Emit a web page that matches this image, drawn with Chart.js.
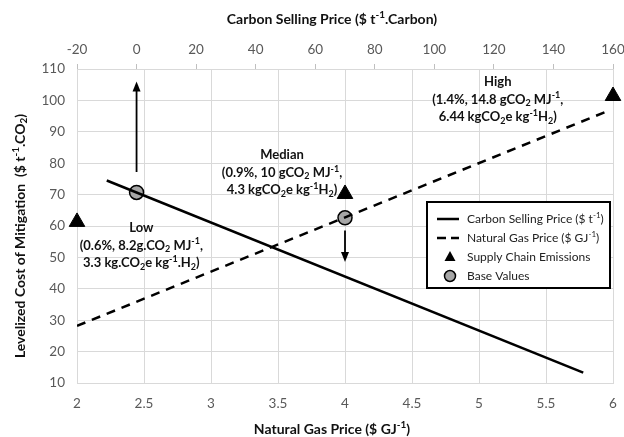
<!DOCTYPE html>
<html>
<head>
<meta charset="utf-8">
<script src="https://cdn.jsdelivr.net/npm/chart.js@4.4.0/dist/chart.umd.min.js"></script>
<style>
  html, body { margin: 0; padding: 0; background: #fff; }
  #wrap { width: 624px; height: 437px; }
</style>
</head>
<body>
<div id="wrap"><canvas id="myChart"></canvas></div>
<script>
var FONT = 'Lato, "Open Sans", sans-serif';

// bottom axis: natural gas price ($/GJ), top axis: carbon selling price ($/t)
var gasRange = [2, 6];
var gasStep = 0.5;
var carbonRange = [-20, 160];
var carbonStep = 20;
var costRange = [10, 110];
var costStep = 10;

// the two sensitivity lines
var carbonLineX = [-10, 150];
var carbonLineY = [74.5, 13.3];
var gasLineX = [2, 5.96];
var gasLineY = [28.2, 96.6];

// supply chain emission cases (on gas axis)
var emissionCases = ['Low', 'Median', 'High'];
var emissionX = [2, 4, 6];
var emissionY = [61.3, 70.2, 101.4];
var emissionNotes = [
    ['Low', '(0.6%, 8.2g.CO_{2} MJ^{-1},', '3.3 kg.CO_{2}e kg^{-1}.H_{2})'],
    ['Median', '(0.9%, 10 gCO_{2} MJ^{-1},', '4.3 kgCO_{2}e kg^{-1}H_{2})'],
    ['High', '(1.4%, 14.8 gCO_{2} MJ^{-1},', '6.44 kgCO_{2}e kg^{-1}H_{2})']
];

// base values
var baseCarbonX = [0];
var baseCarbonY = [70.7];
var baseGasX = [4];
var baseGasY = [62.6];

// arrows: x, from y, to y
var carbonArrow = [0, 77.2, 106];
var gasArrow = [4, 58.6, 48.5];

function pts(xs, ys) {
    return xs.map(function (x, i) { return { x: x, y: ys[i] }; });
}

function drawRich(ctx, str, cx, cy, size, weight, color, align) {
    var segs = [], re = /([_^])\{([^}]*)\}/g, last = 0, m;
    while ((m = re.exec(str))) {
        if (m.index > last) segs.push({ t: str.slice(last, m.index), k: '' });
        segs.push({ t: m[2], k: m[1] });
        last = re.lastIndex;
    }
    if (last < str.length) segs.push({ t: str.slice(last), k: '' });
    var small = Math.round(size * 0.68);
    var w = 0;
    segs.forEach(function (s) {
        ctx.font = weight + ' ' + (s.k ? small : size) + 'px ' + FONT;
        s.w = ctx.measureText(s.t).width;
        w += s.w;
    });
    var x = align === 'left' ? cx : cx - w / 2;
    ctx.fillStyle = color;
    ctx.textBaseline = 'middle';
    ctx.textAlign = 'left';
    segs.forEach(function (s) {
        ctx.font = weight + ' ' + (s.k ? small : size) + 'px ' + FONT;
        var dy = s.k === '_' ? size * 0.3 : (s.k === '^' ? -size * 0.3 : 0);
        ctx.fillText(s.t, x, cy + dy);
        x += s.w;
    });
}

function arrow(ctx, x, y0, y1) {
    var dir = y1 < y0 ? -1 : 1;
    ctx.save();
    ctx.strokeStyle = '#000';
    ctx.fillStyle = '#000';
    ctx.lineWidth = 1.8;
    ctx.beginPath();
    ctx.moveTo(x, y0);
    ctx.lineTo(x, y1 - dir * 8);
    ctx.stroke();
    ctx.beginPath();
    ctx.moveTo(x, y1);
    ctx.lineTo(x - 4, y1 - dir * 10);
    ctx.lineTo(x + 4, y1 - dir * 10);
    ctx.closePath();
    ctx.fill();
    ctx.restore();
}

var extras = {
    id: 'extras',
    beforeDatasetsDraw: function (chart) {
        var ctx = chart.ctx, s = chart.scales;
        arrow(ctx, s.x2.getPixelForValue(carbonArrow[0]), s.y.getPixelForValue(carbonArrow[1]), s.y.getPixelForValue(carbonArrow[2]));
        arrow(ctx, s.x.getPixelForValue(gasArrow[0]), s.y.getPixelForValue(gasArrow[1]), s.y.getPixelForValue(gasArrow[2]));
    },
    afterDraw: function (chart) {
        var ctx = chart.ctx, s = chart.scales, a = chart.chartArea;
        // case notes
        var anchors = [[2.48, 59.4], [3.53, 82.6], [5.14, 105.9]];
        emissionNotes.forEach(function (lines, i) {
            var cx = s.x.getPixelForValue(anchors[i][0]);
            var cy = s.y.getPixelForValue(anchors[i][1]);
            lines.forEach(function (t, j) {
                drawRich(ctx, t, cx, cy + j * 17.5, 13, 'bold', '#111', 'center');
            });
        });

        // axis titles
        drawRich(ctx, 'Carbon Selling Price ($ t^{-1}.Carbon)', 332, 19, 14, 'bold', '#111', 'center');
        drawRich(ctx, 'Natural Gas Price ($ GJ^{-1})', 332, 429, 14, 'bold', '#111', 'center');
        ctx.save();
        ctx.translate(20, 236);
        ctx.rotate(-Math.PI / 2);
        drawRich(ctx, 'Levelized Cost of Mitigation  ($ t^{-1}.CO_{2})', 0, 0, 14, 'bold', '#111', 'center');
        ctx.restore();

        // legend box
        var bx = a.right - 186, by = a.top + 133, bw = 183, bh = 86;
        ctx.save();
        ctx.fillStyle = '#fff';
        ctx.fillRect(bx, by, bw, bh);
        ctx.strokeStyle = '#000';
        ctx.lineWidth = 2;
        ctx.strokeRect(bx, by, bw, bh);
        var rows = [by + 17, by + 36, by + 55, by + 74];
        var names = ['Carbon Selling Price ($ t^{-1})', 'Natural Gas Price ($ GJ^{-1})', 'Supply Chain Emissions', 'Base Values'];
        ctx.lineWidth = 2.5;
        ctx.beginPath();
        ctx.moveTo(bx + 10, rows[0]);
        ctx.lineTo(bx + 32, rows[0]);
        ctx.stroke();
        ctx.setLineDash([9, 5]);
        ctx.beginPath();
        ctx.moveTo(bx + 10, rows[1]);
        ctx.lineTo(bx + 32, rows[1]);
        ctx.stroke();
        ctx.setLineDash([]);
        ctx.fillStyle = '#000';
        ctx.beginPath();
        ctx.moveTo(bx + 23, rows[2] - 6);
        ctx.lineTo(bx + 28.5, rows[2] + 4);
        ctx.lineTo(bx + 17.5, rows[2] + 4);
        ctx.closePath();
        ctx.fill();
        ctx.beginPath();
        ctx.arc(bx + 23, rows[3], 5.5, 0, Math.PI * 2);
        ctx.fillStyle = '#a6a6a6';
        ctx.fill();
        ctx.lineWidth = 1.5;
        ctx.stroke();
        names.forEach(function (n, i) {
            drawRich(ctx, n, bx + 40, rows[i], 12, 'normal', '#222', 'left');
        });
        ctx.restore();
    }
};

var tickFont = { family: FONT, size: 13.5 };
var gridColor = '#d9d9d9';

var ctx = document.getElementById('myChart').getContext('2d');
var myChart = new Chart(ctx, {
    type: 'scatter',
    data: {
        datasets: [{
            label: 'Carbon Selling Price',
            xAxisID: 'x2',
            data: pts(carbonLineX, carbonLineY),
            showLine: true,
            borderColor: '#000',
            borderWidth: 2.5,
            pointRadius: 0
        },
        {
            label: 'Natural Gas Price',
            xAxisID: 'x',
            data: pts(gasLineX, gasLineY),
            showLine: true,
            borderColor: '#000',
            borderWidth: 2.5,
            borderDash: [9, 7],
            pointRadius: 0
        },
        {
            label: 'Supply Chain Emissions',
            xAxisID: 'x',
            data: pts(emissionX, emissionY),
            pointStyle: 'triangle',
            pointRadius: 9,
            backgroundColor: '#000',
            borderColor: '#000',
            clip: false
        },
        {
            label: 'Base Values',
            xAxisID: 'x2',
            data: pts(baseCarbonX, baseCarbonY),
            pointRadius: 7,
            backgroundColor: '#a6a6a6',
            borderColor: '#000',
            borderWidth: 1.5
        },
        {
            label: 'Base Values',
            xAxisID: 'x',
            data: pts(baseGasX, baseGasY),
            pointRadius: 7,
            backgroundColor: '#a6a6a6',
            borderColor: '#000',
            borderWidth: 1.5
        }]
    },
    options: {
        responsive: true,
        maintainAspectRatio: false,
        animation: false,
        layout: { padding: { right: 11 } },
        plugins: {
            legend: { display: false },
            tooltip: { enabled: false }
        },
        scales: {
            x: {
                type: 'linear',
                position: 'bottom',
                min: gasRange[0],
                max: gasRange[1],
                ticks: { stepSize: gasStep, color: '#595959', font: tickFont, padding: 13, callback: function (v) { return String(v); } },
                grid: { color: gridColor, drawTicks: false },
                border: { color: gridColor },
                afterFit: function (s) { s.height = 54; s.paddingRight = 0; s.paddingLeft = 0; }
            },
            x2: {
                type: 'linear',
                position: 'top',
                min: carbonRange[0],
                max: carbonRange[1],
                ticks: { stepSize: carbonStep, color: '#595959', font: tickFont, padding: 6, callback: function (v) { return String(v); } },
                grid: { drawOnChartArea: false, color: '#bfbfbf', tickLength: 5 },
                border: { color: gridColor },
                afterFit: function (s) { s.height = 69; s.paddingRight = 0; s.paddingLeft = 0; }
            },
            y: {
                min: costRange[0],
                max: costRange[1],
                ticks: { stepSize: costStep, color: '#595959', font: tickFont, padding: 12 },
                grid: { color: gridColor, drawTicks: false },
                border: { display: false },
                afterFit: function (s) { s.width = 77; }
            }
        }
    },
    plugins: [extras]
});
</script>
</body>
</html>
